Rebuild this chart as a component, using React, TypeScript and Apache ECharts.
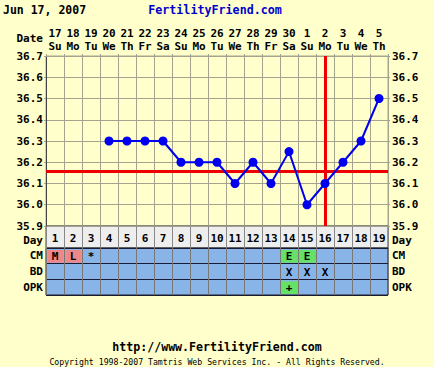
import React, { useEffect, useRef } from 'react';
import * as echarts from 'echarts';

const headerDate = 'Jun 17, 2007';
const siteTitle = 'FertilityFriend.com';
const footerUrl = 'http://www.FertilityFriend.com';
const footerCopyright = 'Copyright 1998-2007 Tamtris Web Services Inc. - All Rights Reserved.';
const dateLabel = 'Date';

const calendarDates = ['17', '18', '19', '20', '21', '22', '23', '24', '25', '26', '27', '28', '29', '30', '1', '2', '3', '4', '5'];
const weekdays = ['Su', 'Mo', 'Tu', 'We', 'Th', 'Fr', 'Sa', 'Su', 'Mo', 'Tu', 'We', 'Th', 'Fr', 'Sa', 'Su', 'Mo', 'Tu', 'We', 'Th'];
const cycleDays = ['1', '2', '3', '4', '5', '6', '7', '8', '9', '10', '11', '12', '13', '14', '15', '16', '17', '18', '19'];
const temperatures: (number | null)[] = [null, null, null, 36.3, 36.3, 36.3, 36.3, 36.2, 36.2, 36.2, 36.1, 36.2, 36.1, 36.25, 36.0, 36.1, 36.2, 36.3, 36.5];
const coverline = 36.16;
const ovulationDay = '16';
const tempMin = 35.9;
const tempMax = 36.7;
const tempStep = 0.1;

const rowNames = ['CM', 'BD', 'OPK'];
const cmRow = ['M', 'L', '*', '', '', '', '', '', '', '', '', '', '', 'E', 'E', '', '', '', ''];
const bdRow = ['', '', '', '', '', '', '', '', '', '', '', '', '', 'X', 'X', 'X', '', '', ''];
const opkRow = ['', '', '', '', '', '', '', '', '', '', '', '', '', '+', '', '', '', '', ''];

const FONT = '"DejaVu Sans Mono", monospace';
const BG = '#ffffcc';
const GRIDC = '#a4a48e';
const cellFill: Record<string, string> = { M: '#ee8888', L: '#ee8888', E: '#66e066', '+': '#66e066' };

const tableRows = [cmRow, bdRow, opkRow];
const tableCells: { x: number; y: number; mark: string }[] = [];
tableRows.forEach((row, r) => row.forEach((mark, i) => { if (mark) tableCells.push({ x: i, y: r, mark }); }));

export default function App() {
  const ref = useRef<HTMLDivElement>(null);
  useEffect(() => {
    if (!ref.current) return;
    const chart = echarts.init(ref.current, null, { renderer: 'svg' });
    const lbl = { fontFamily: FONT, fontWeight: 'bold' as const, fontSize: 11, color: '#000' };
    const dayLabel = {
      ...lbl,
      formatter: (v: string) => `{d|${v}}`,
      rich: { d: { ...lbl, padding: [7, 0, 0, 0] } },
    };
    const option: any = {
      animation: false,
      backgroundColor: BG,
      grid: [
        { left: 46, top: 56, width: 342, height: 170, show: true, borderColor: GRIDC, borderWidth: 1, backgroundColor: 'transparent' },
        { left: 46, top: 226, width: 342, height: 22, show: true, borderColor: '#444', borderWidth: 1, backgroundColor: '#eeeeee' },
        { left: 46, top: 248, width: 342, height: 47, show: true, borderColor: '#222', borderWidth: 1, backgroundColor: '#88b4e8' },
      ],
      xAxis: [
        {
          gridIndex: 0, type: 'category', position: 'top', data: cycleDays, boundaryGap: true,
          axisLine: { show: true, lineStyle: { color: GRIDC } },
          axisTick: { show: true, length: 2, lineStyle: { color: GRIDC } },
          splitLine: { show: true, lineStyle: { color: GRIDC, width: 1 } },
          axisLabel: {
            ...lbl, margin: 3, lineHeight: 13, interval: 0,
            formatter: (_v: string, i: number) => `${calendarDates[i]}\n${weekdays[i]}`,
          },
        },
        {
          gridIndex: 1, type: 'category', data: cycleDays, boundaryGap: true,
          axisLine: { show: false }, axisTick: { show: false }, axisLabel: { show: false },
          splitLine: { show: true, lineStyle: { color: '#888', width: 1 } },
        },
        {
          gridIndex: 2, type: 'category', data: cycleDays, boundaryGap: true,
          axisLine: { show: false }, axisTick: { show: false }, axisLabel: { show: false },
          splitLine: { show: true, lineStyle: { color: '#777', width: 1 } },
        },
      ],
      yAxis: [
        {
          gridIndex: 0, type: 'value', min: tempMin, max: tempMax, interval: tempStep,
          axisLine: { show: true, lineStyle: { color: '#444' } },
          axisTick: { show: true, length: 2, lineStyle: { color: GRIDC } },
          splitLine: { show: true, lineStyle: { color: GRIDC, width: 1 } },
          axisLabel: { ...lbl, margin: 3, formatter: (v: number) => v.toFixed(1) },
        },
        {
          gridIndex: 0, type: 'value', position: 'right', min: tempMin, max: tempMax, interval: tempStep,
          axisLine: { show: false },
          axisTick: { show: true, length: 2, lineStyle: { color: GRIDC } },
          splitLine: { show: false },
          axisLabel: { ...lbl, margin: 4, formatter: (v: number) => v.toFixed(1) },
        },
        {
          gridIndex: 1, type: 'category', data: ['Day'],
          axisLine: { show: false }, axisTick: { show: false }, splitLine: { show: false },
          axisLabel: { ...dayLabel, margin: 3 },
        },
        {
          gridIndex: 1, type: 'category', data: ['Day'], position: 'right',
          axisLine: { show: false }, axisTick: { show: false }, splitLine: { show: false },
          axisLabel: { ...dayLabel, margin: 4 },
        },
        {
          gridIndex: 2, type: 'category', data: rowNames, inverse: true,
          axisLine: { show: false }, axisTick: { show: false },
          splitLine: { show: true, lineStyle: { color: '#1a1a33', width: 1 } },
          axisLabel: { ...lbl, margin: 3 },
        },
        {
          gridIndex: 2, type: 'category', data: rowNames, inverse: true, position: 'right',
          axisLine: { show: false }, axisTick: { show: false }, splitLine: { show: false },
          axisLabel: { ...lbl, margin: 4 },
        },
      ],
      series: [
        {
          type: 'line', xAxisIndex: 0, yAxisIndex: 0, data: temperatures,
          symbol: 'circle', symbolSize: 9, connectNulls: false,
          itemStyle: { color: '#0000ee' },
          lineStyle: { color: '#0000ee', width: 2 },
          z: 5,
          markLine: {
            silent: true, symbol: 'none', label: { show: false },
            lineStyle: { color: '#ee0000', width: 3, type: 'solid' },
            data: [{ yAxis: coverline }, { xAxis: ovulationDay }],
            z: 3,
          },
        },
        {
          type: 'custom', xAxisIndex: 1, yAxisIndex: 2,
          data: cycleDays.map((_d, i) => [i, 0]),
          renderItem: (params: any, api: any) => {
            const c = api.coord([api.value(0), 0]);
            return {
              type: 'text',
              style: {
                text: cycleDays[params.dataIndex], x: c[0], y: c[1] + 1.5, align: 'center', verticalAlign: 'middle',
                fontFamily: FONT, fontWeight: 'bold', fontSize: 11, fill: '#000',
              },
            };
          },
        },
        {
          type: 'custom', xAxisIndex: 2, yAxisIndex: 4,
          data: tableCells.map((c) => [c.x, c.y]),
          renderItem: (params: any, api: any) => {
            const cell = tableCells[params.dataIndex];
            const c = api.coord([api.value(0), api.value(1)]);
            const s = api.size([1, 1]);
            const children: any[] = [];
            const fill = cellFill[cell.mark];
            if (fill) {
              children.push({
                type: 'rect',
                shape: { x: c[0] - s[0] / 2 + 2, y: c[1] - s[1] / 2 + 2, width: s[0] - 3, height: s[1] - 3 },
                style: { fill },
              });
            }
            children.push({
              type: 'text',
              style: {
                text: cell.mark, x: c[0], y: c[1] + 0.5, align: 'center', verticalAlign: 'middle',
                fontFamily: FONT, fontWeight: 'bold', fontSize: 11, fill: '#000',
              },
            });
            return { type: 'group', children };
          },
        },
      ],
      graphic: [
        { type: 'text', x: 3, y: 10, style: { text: headerDate, fontFamily: FONT, fontWeight: 'bold', fontSize: 11.5, fill: '#000', verticalAlign: 'middle' } },
        { type: 'text', x: 215, y: 10, style: { text: siteTitle, fontFamily: FONT, fontWeight: 'bold', fontSize: 11.7, fill: '#0000cc', align: 'center', verticalAlign: 'middle' } },
        { type: 'text', x: 43, y: 38, style: { text: dateLabel, fontFamily: FONT, fontWeight: 'bold', fontSize: 11, fill: '#000', align: 'right', verticalAlign: 'middle' } },
        { type: 'text', x: 217, y: 347, style: { text: footerUrl, fontFamily: FONT, fontWeight: 'bold', fontSize: 11.6, fill: '#000', align: 'center', verticalAlign: 'middle' } },
        { type: 'text', x: 217, y: 362, style: { text: footerCopyright, fontFamily: FONT, fontSize: 8.2, fill: '#000', align: 'center', verticalAlign: 'middle' } },
      ],
    };
    chart.setOption(option);
    return () => chart.dispose();
  }, []);
  return <div ref={ref} style={{ position: 'fixed', left: 0, top: 0, width: 434, height: 367 }} />;
}
